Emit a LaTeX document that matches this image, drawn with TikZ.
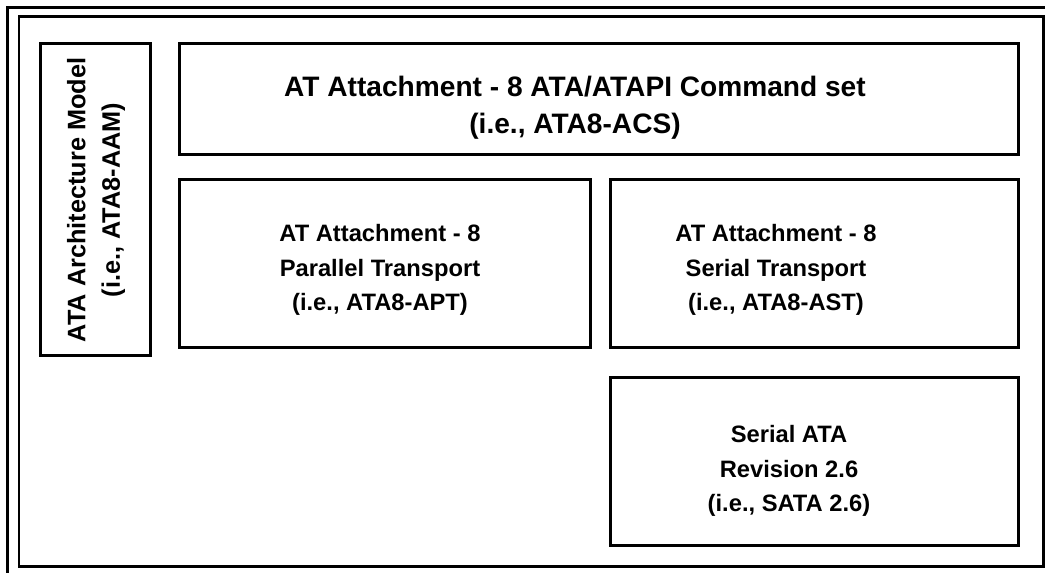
\documentclass[tikz,border=0pt]{standalone}
\usepackage{fontspec}
\setmainfont{Liberation Sans}
\usetikzlibrary{positioning}

\tikzset{
  frame/.style={line width=0.06cm},
  stdbox/.style={draw, line width=0.06cm},
  stdtext/.style={font=\bfseries\fontsize{13.5}{19.6}\selectfont, align=center, inner sep=0pt}
}

\begin{document}
\begin{tikzpicture}[x=0.02cm, y=-0.02cm]
\useasboundingbox (0,0) rectangle (1045,573);
% outer and inner frames
\draw[frame] (1060,7.5) -- (7.5,7.5) -- (7.5,590);
\draw[frame] (19,17) rectangle (1043,567);

% boxes
\draw[stdbox] (40,44) rectangle (150,356);
\draw[stdbox] (179,44) rectangle (1018,155);
\draw[stdbox] (179,180) rectangle (590,348);
\draw[stdbox] (610,180) rectangle (1018,348);
\draw[stdbox] (610,378) rectangle (1018,546);

% texts
\node[stdtext, rotate=90, font=\bfseries\fontsize{14.4}{19.6}\selectfont] (aam) at (96,200) {ATA Architecture Model\\(i.e., ATA8-AAM)};
\node[stdtext, font=\bfseries\fontsize{16}{21}\selectfont] (acs) at (575,107.5) {AT Attachment - 8 ATA/ATAPI Command set\\(i.e., ATA8-ACS)};
\node[stdtext] (apt) at (380,270) {AT Attachment - 8\\Parallel Transport\\(i.e., ATA8-APT)};
\node[stdtext] (ast) at (776,270) {AT Attachment - 8\\Serial Transport\\(i.e., ATA8-AST)};
\node[stdtext] (sata) at (789,471) {Serial ATA\\Revision 2.6\\(i.e., SATA 2.6)};
\end{tikzpicture}
\end{document}
